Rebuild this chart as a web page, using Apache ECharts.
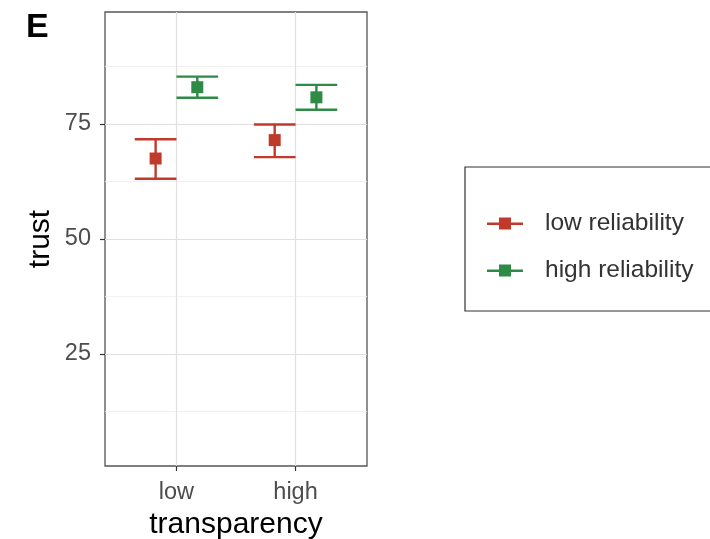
<!DOCTYPE html>
<html><head><meta charset="utf-8">
<script src="https://cdn.jsdelivr.net/npm/echarts@6/dist/echarts.min.js"></script>
<style>html,body{margin:0;padding:0;background:#fff}#c{width:710px;height:539px}</style>
</head><body><div id="c"></div>
<script>
// Data
const transparency = ['low', 'high'];
const reliabilityLevels = ['low reliability', 'high reliability'];
const lowRelMean  = [67.5, 71.5];
const lowRelLower = [63.1, 67.8];
const lowRelUpper = [71.7, 74.9];
const highRelMean  = [83.0, 80.8];
const highRelLower = [80.7, 78.1];
const highRelUpper = [85.3, 83.5];
const yTicks = [25, 50, 75];
const yMinorGrid = [12.5, 37.5, 62.5, 87.5];

const colors = ['#C0392B', '#2E8B46'];
const dodge = 0.175;
const capHalf = 0.175;
const FONT = "'Liberation Sans', Arial, sans-serif";

function pts(means, off) { return means.map((m, i) => [i + 1 + off, m]); }
function bars(lo, hi, off) { return lo.map((l, i) => [i + 1 + off, l, hi[i]]); }

function renderErr(params, api) {
  const x = api.value(0), lo = api.value(1), hi = api.value(2);
  const pLo = api.coord([x, lo]), pHi = api.coord([x, hi]);
  const cl = api.coord([x - capHalf, lo]), cr = api.coord([x + capHalf, lo]);
  const hl = api.coord([x - capHalf, hi]), hr = api.coord([x + capHalf, hi]);
  const st = { stroke: api.visual('color'), lineWidth: 2.4 };
  return { type: 'group', children: [
    { type: 'line', shape: { x1: pLo[0], y1: pLo[1], x2: pHi[0], y2: pHi[1] }, style: st },
    { type: 'line', shape: { x1: cl[0], y1: cl[1], x2: cr[0], y2: cr[1] }, style: st },
    { type: 'line', shape: { x1: hl[0], y1: hl[1], x2: hr[0], y2: hr[1] }, style: st }
  ]};
}

const gridLines = [].concat(
  yTicks.map(v => ({ yAxis: v, lineStyle: { color: '#e0e0e0', width: 1.2, type: 'solid' } })),
  yMinorGrid.map(v => ({ yAxis: v, lineStyle: { color: '#eeeeee', width: 0.8, type: 'solid' } })),
  transparency.map((t, i) => ({ xAxis: i + 1, lineStyle: { color: '#e0e0e0', width: 1.2, type: 'solid' } }))
);

const chart = echarts.init(document.getElementById('c'), null, { renderer: 'canvas' });
chart.setOption({
  animation: false,
  backgroundColor: '#fff',
  textStyle: { fontFamily: FONT },
  title: { text: 'E', left: 21, top: 6, textStyle: { fontSize: 34, fontWeight: 'bold', color: '#000', fontFamily: FONT } },
  grid: { left: 105, top: 12, width: 262, height: 454, show: true, borderColor: '#555', borderWidth: 1.3, backgroundColor: 'transparent', containLabel: false, outerBoundsMode: 'none' },
  xAxis: {
    type: 'value', min: 0.4, max: 2.6, interval: 0.2,
    name: 'transparency', nameLocation: 'middle', nameGap: 42,
    nameTextStyle: { fontSize: 30, color: '#000', fontFamily: FONT },
    axisLine: { show: false },
    axisTick: { show: true, length: 5, lineStyle: { color: '#333', width: 1.2 }, customValues: [1, 2] },
    axisLabel: { customValues: [1, 2], fontSize: 23.5, color: '#4d4d4d', margin: 15, formatter: v => transparency[Math.round(v) - 1] || '' },
    splitLine: { show: false }
  },
  yAxis: {
    type: 'value', min: 0.65, max: 99.35,
    name: 'trust', nameLocation: 'middle', nameGap: 49.5, nameRotate: 90,
    nameTextStyle: { fontSize: 30, color: '#000', fontFamily: FONT },
    axisLine: { show: false },
    axisTick: { show: true, length: 5, lineStyle: { color: '#333', width: 1.2 }, customValues: yTicks },
    axisLabel: { customValues: yTicks, fontSize: 23.5, color: '#4d4d4d', margin: 14 },
    splitLine: { show: false }
  },
  legend: {
    orient: 'vertical', left: 465, top: 167,
    padding: [44, 40, 28, 22], itemGap: 22,
    itemWidth: 36, itemHeight: 12,
    borderColor: '#333', borderWidth: 1.2, backgroundColor: '#fff',
    textStyle: { fontSize: 24.5, color: '#333', fontFamily: FONT, padding: [0, 0, 0, 17], lineHeight: 22 },
    data: reliabilityLevels.map(n => ({ name: n, icon: 'path://M0,5H36V7.4H0Z M12,0H24V12H12Z' }))
  },
  series: [
    { name: 'grid', type: 'custom', silent: true, data: [], renderItem: () => null, z: 0,
      markLine: { silent: true, symbol: 'none', label: { show: false }, data: gridLines, animation: false, z: 0 } },
    { name: reliabilityLevels[0], type: 'custom', renderItem: renderErr, data: bars(lowRelLower, lowRelUpper, -dodge), itemStyle: { color: colors[0] }, z: 5 },
    { name: reliabilityLevels[1], type: 'custom', renderItem: renderErr, data: bars(highRelLower, highRelUpper, dodge), itemStyle: { color: colors[1] }, z: 5 },
    { name: reliabilityLevels[0], type: 'scatter', symbol: 'rect', symbolSize: 12, data: pts(lowRelMean, -dodge), itemStyle: { color: colors[0], opacity: 1 }, z: 6 },
    { name: reliabilityLevels[1], type: 'scatter', symbol: 'rect', symbolSize: 12, data: pts(highRelMean, dodge), itemStyle: { color: colors[1], opacity: 1 }, z: 6 }
  ]
});
</script></body></html>
